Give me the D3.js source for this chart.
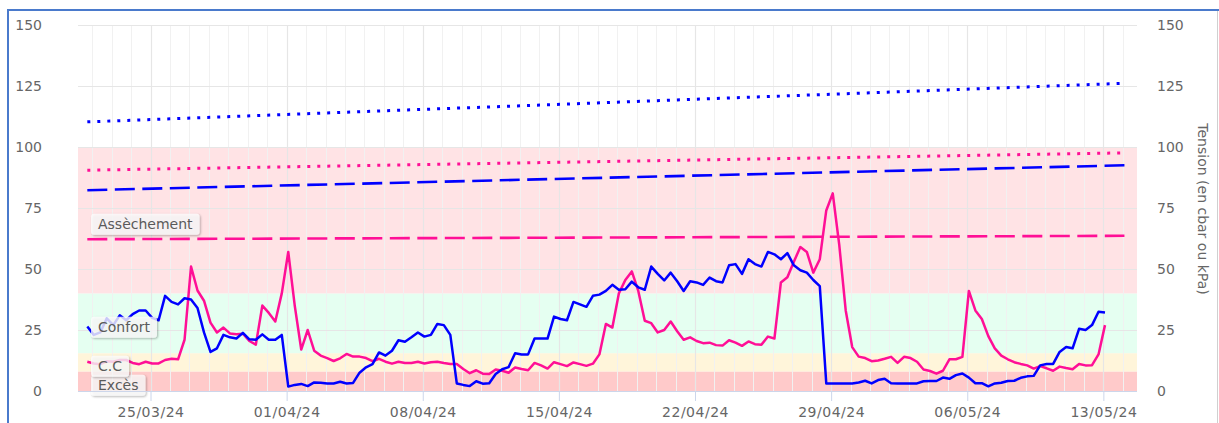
<!DOCTYPE html>
<html><head><meta charset="utf-8">
<script src="https://cdn.jsdelivr.net/npm/d3@7"></script>
<style>
body{margin:0;background:#fff;}
svg text{font-family:"DejaVu Sans",sans-serif;}
</style>
</head><body>
<svg id="chart" width="1219" height="423"></svg>
<script>
// ---------------- DATA ----------------
const seriesStart = "2024-03-21 18:00";   // first reading
const seriesStepHours = 8;                // one reading every 8 hours
const blueValues = [
  26.4, 23, 24, 29.8, 27, 31, 29, 31.5, 33, 33,
  30, 29, 39, 36.5, 35.5, 38, 37.5, 34, 24, 16,
  17.5, 23, 22, 21.5, 23.8, 21.2, 21, 23.2, 21, 21,
  23, 1.8, 2.5, 2.9, 2, 3.5, 3.4, 3.1, 3.1, 3.8,
  3.1, 3.3, 7.5, 9.7, 11, 15.8, 14.5, 16.5, 20.8, 20.2,
  22, 24, 22.3, 23, 27.5, 27, 23, 3.1, 2.5, 2,
  4, 3, 3.2, 7, 8.9, 9.8, 15.5, 15, 15, 21.5,
  21.5, 21.5, 30.5, 29.5, 29, 36.5, 35.5, 34.5, 39, 39.5,
  41, 43.5, 41.5, 41.7, 44.8, 42.5, 41.5, 51, 48, 45.3,
  48.5, 45, 41, 45, 44.5, 43.5, 46.5, 45, 44.5, 51.5,
  52, 48, 54, 52, 51, 57, 56, 54, 56.5, 51.5,
  49.5, 48.5, 45.5, 43, 3.1, 3.1, 3.1, 3.1, 3.1, 3.5,
  4.2, 3.1, 4.5, 5, 3.2, 3.1, 3.1, 3.1, 3.1, 4,
  4.1, 4.1, 5.5, 5, 6.5, 7.2, 5.5, 3.2, 3.2, 1.9,
  3.1, 3.4, 4.1, 4.2, 5.4, 6, 6.2, 10.5, 11.1, 11.1,
  16, 18, 17.5, 25.5, 25, 27, 32.5, 32.2
];
const pinkValues = [
  12, 11.3, 11, 12.2, 12, 12.7, 12.7, 11.5, 11, 12,
  11.3, 11.3, 12.7, 13.2, 13, 21, 51, 41.2, 37, 28,
  24, 26, 23.6, 23.3, 23.5, 20.5, 19, 35, 32, 28.5,
  40, 57, 35, 17, 25, 16.5, 14.5, 13.5, 12.3, 13.4,
  15.2, 14.1, 14.1, 13.5, 12.2, 13.2, 12, 11.2, 12, 11.5,
  11.5, 12, 11.3, 11.8, 12, 11.5, 11.1, 11.1, 9, 7.3,
  8.5, 7.1, 7, 8.8, 8.3, 7.5, 9.6, 9, 8.5, 11.5,
  10.5, 9.2, 11.8, 11, 10.2, 11.7, 11, 10.3, 11.2, 15,
  27.5, 26, 40, 45.5, 49, 41, 28.8, 27.8, 24, 25,
  28.5, 24.5, 21, 22, 20.5, 19.6, 19.8, 18.8, 18.6, 20.8,
  19.8, 18.5, 20.3, 19.2, 19, 22.3, 21.5, 44.5, 46.6, 53,
  59, 57, 48.5, 54, 74, 81, 60, 33, 18, 14.1,
  13.5, 12.2, 12.5, 13.2, 14, 11.5, 14, 13.5, 12, 8.8,
  8.2, 7.1, 8.3, 13, 13, 14, 41, 33, 29.5, 22.5,
  17.5, 14.5, 13, 11.8, 11.1, 10.5, 9.2, 10.2, 9.3, 8.3,
  10, 9.4, 8.9, 11.1, 10.5, 10.6, 15, 27
];
// threshold trend lines (start value, end value)
const trendTimes = ["2024-03-21 18:00", "2024-05-14 02:00"];
const blueDotted = [110.3, 126.1];
const pinkDotted = [90.5, 97.6];
const blueDashed = [82.3, 92.5];
const pinkDashed = [62.2, 63.6];
// zones
const bandNames = ["Excès", "C.C", "Confort", "Assèchement"];
const bandFrom  = [0, 8, 15.5, 40];
const bandTo    = [8, 15.5, 40, 100];
// axes
const xDomain = ["2024-03-21 06:30", "2024-05-14 17:30"];
const xTickDates = ["2024-03-25 00:00","2024-04-01 00:00","2024-04-08 00:00","2024-04-15 00:00",
                    "2024-04-22 00:00","2024-04-29 00:00","2024-05-06 00:00","2024-05-13 00:00"];
const yTicks = [0, 25, 50, 75, 100, 125, 150];
const yTitle = "Tension (en cbar ou kPa)";

// ---------------- STYLE ----------------
const bandColors = ["#ffcaca", "#fff5da", "#e5fff1", "#ffe3e5"];
const blueColor = "#0000ff", pinkColor = "#ff0f96";
const M = {left: 78, right: 1137, top: 25, bottom: 391};

const parse = d3.utcParse("%Y-%m-%d %H:%M");
const t0 = parse(seriesStart);
const times = blueValues.map((_, i) => d3.utcHour.offset(t0, i * seriesStepHours));

const x = d3.scaleUtc().domain(xDomain.map(parse)).range([M.left, M.right]);
const y = d3.scaleLinear().domain([0, 150]).range([M.bottom, M.top]);

const svg = d3.select("#chart");
const defs = svg.append("defs");
const f = defs.append("filter").attr("id","sh").attr("x","-20%").attr("y","-30%").attr("width","150%").attr("height","180%");
f.append("feDropShadow").attr("dx",1).attr("dy",1).attr("stdDeviation",0.9)
  .attr("flood-color","#000").attr("flood-opacity",0.4);

// frame
svg.append("line").attr("x1",8).attr("x2",1219).attr("y1",10).attr("y2",10)
  .attr("stroke","#4a7acc").attr("stroke-width",2);
svg.append("line").attr("x1",8).attr("x2",8).attr("y1",9).attr("y2",423)
  .attr("stroke","#4a7acc").attr("stroke-width",2);
svg.append("line").attr("x1",1217.5).attr("x2",1217.5).attr("y1",11).attr("y2",423)
  .attr("stroke","#d0d0d0").attr("stroke-width",1);

// bands
svg.append("g").selectAll("rect").data(bandNames).join("rect")
  .attr("x", M.left).attr("width", M.right - M.left)
  .attr("y", (d,i) => y(bandTo[i])).attr("height", (d,i) => y(bandFrom[i]) - y(bandTo[i]))
  .attr("fill", (d,i) => bandColors[i]);

// vertical grid: daily minor, weekly major
const days = d3.utcDay.range(x.domain()[0], x.domain()[1]);
svg.append("g").selectAll("line").data(days).join("line")
  .attr("x1", d => Math.round(x(d)) + 0.5).attr("x2", d => Math.round(x(d)) + 0.5)
  .attr("y1", M.top).attr("y2", M.bottom)
  .attr("stroke", "#f1f1f1").attr("stroke-width", 1);
const majors = xTickDates.map(parse);
svg.append("g").selectAll("line").data(majors).join("line")
  .attr("x1", d => Math.round(x(d)) + 0.5).attr("x2", d => Math.round(x(d)) + 0.5)
  .attr("y1", M.top).attr("y2", M.bottom)
  .attr("stroke", "#e6e6e6").attr("stroke-width", 1.2);
// horizontal grid
svg.append("g").selectAll("line").data(yTicks).join("line")
  .attr("x1", M.left).attr("x2", M.right)
  .attr("y1", d => Math.round(y(d)) + 0.5).attr("y2", d => Math.round(y(d)) + 0.5)
  .attr("stroke", "#e6e6e6").attr("stroke-width", 1);

// trend lines
const tt = trendTimes.map(parse);
function trend(vals, color, dash, w) {
  svg.append("path").datum(vals)
    .attr("d", d3.line().x((d,i) => x(tt[i])).y(d => y(d)))
    .attr("fill","none").attr("stroke", color).attr("stroke-width", w)
    .attr("stroke-dasharray", dash);
}
trend(blueDotted, blueColor, "3,7", 3);
trend(pinkDotted, pinkColor, "3,7", 3);
trend(blueDashed, blueColor, "20,7.5", 2.6);
trend(pinkDashed, pinkColor, "20,7.5", 2.6);

// series
const line = d3.line().x((d,i) => x(times[i])).y(d => y(d));
svg.append("path").datum(pinkValues).attr("d", line)
  .attr("fill","none").attr("stroke", pinkColor).attr("stroke-width", 2.5)
  .attr("stroke-linejoin","round");
svg.append("path").datum(blueValues).attr("d", line)
  .attr("fill","none").attr("stroke", blueColor).attr("stroke-width", 2.5)
  .attr("stroke-linejoin","round");

// band labels
const lab = svg.append("g").selectAll("g").data(bandNames).join("g")
  .attr("transform", (d,i) => `translate(${M.left + 13},${y((bandFrom[i] + bandTo[i]) / 2) + 4})`);
lab.each(function(d) {
  const g = d3.select(this);
  const r = g.append("rect");
  const t = g.append("text").text(d).attr("x", 7).attr("dy","0.35em")
    .attr("font-size", 14).attr("fill", "#5a5a5a");
  const w = t.node().getComputedTextLength();
  r.attr("x", 0).attr("y", -10.5).attr("width", w + 14).attr("height", 21).attr("rx", 3)
    .attr("fill", "rgba(255,255,255,0.75)").attr("filter","url(#sh)");
});

// x axis
const xa = svg.append("g").attr("transform", `translate(0,${M.bottom})`)
  .call(d3.axisBottom(x).tickValues(majors).tickFormat(d3.utcFormat("%d/%m/%y")).tickSize(10).tickPadding(6));
xa.select(".domain").attr("stroke", "#ccd6eb").attr("d", `M${M.left},0.5H${M.right}`);
xa.selectAll(".tick line").attr("stroke", "#ccd6eb");
xa.selectAll("text").attr("font-size", 14).attr("fill", "#666").attr("font-family", "DejaVu Sans")
  .attr("letter-spacing", 0.5);

// y axes
const yl = svg.append("g").attr("transform", `translate(${M.left},0)`)
  .call(d3.axisLeft(y).tickValues(yTicks).tickSize(0).tickPadding(36));
yl.select(".domain").remove();
yl.selectAll("text").attr("font-size", 14).attr("fill", "#666").attr("font-family", "DejaVu Sans");
const yr = svg.append("g").attr("transform", `translate(${M.right},0)`)
  .call(d3.axisRight(y).tickValues(yTicks).tickSize(0).tickPadding(20));
yr.select(".domain").remove();
yr.selectAll("text").attr("font-size", 14).attr("fill", "#666").attr("font-family", "DejaVu Sans");

svg.append("text").text(yTitle)
  .attr("transform", "translate(1198,209) rotate(90)")
  .attr("text-anchor","middle").attr("font-size", 14).attr("fill", "#666");
</script>
</body></html>
